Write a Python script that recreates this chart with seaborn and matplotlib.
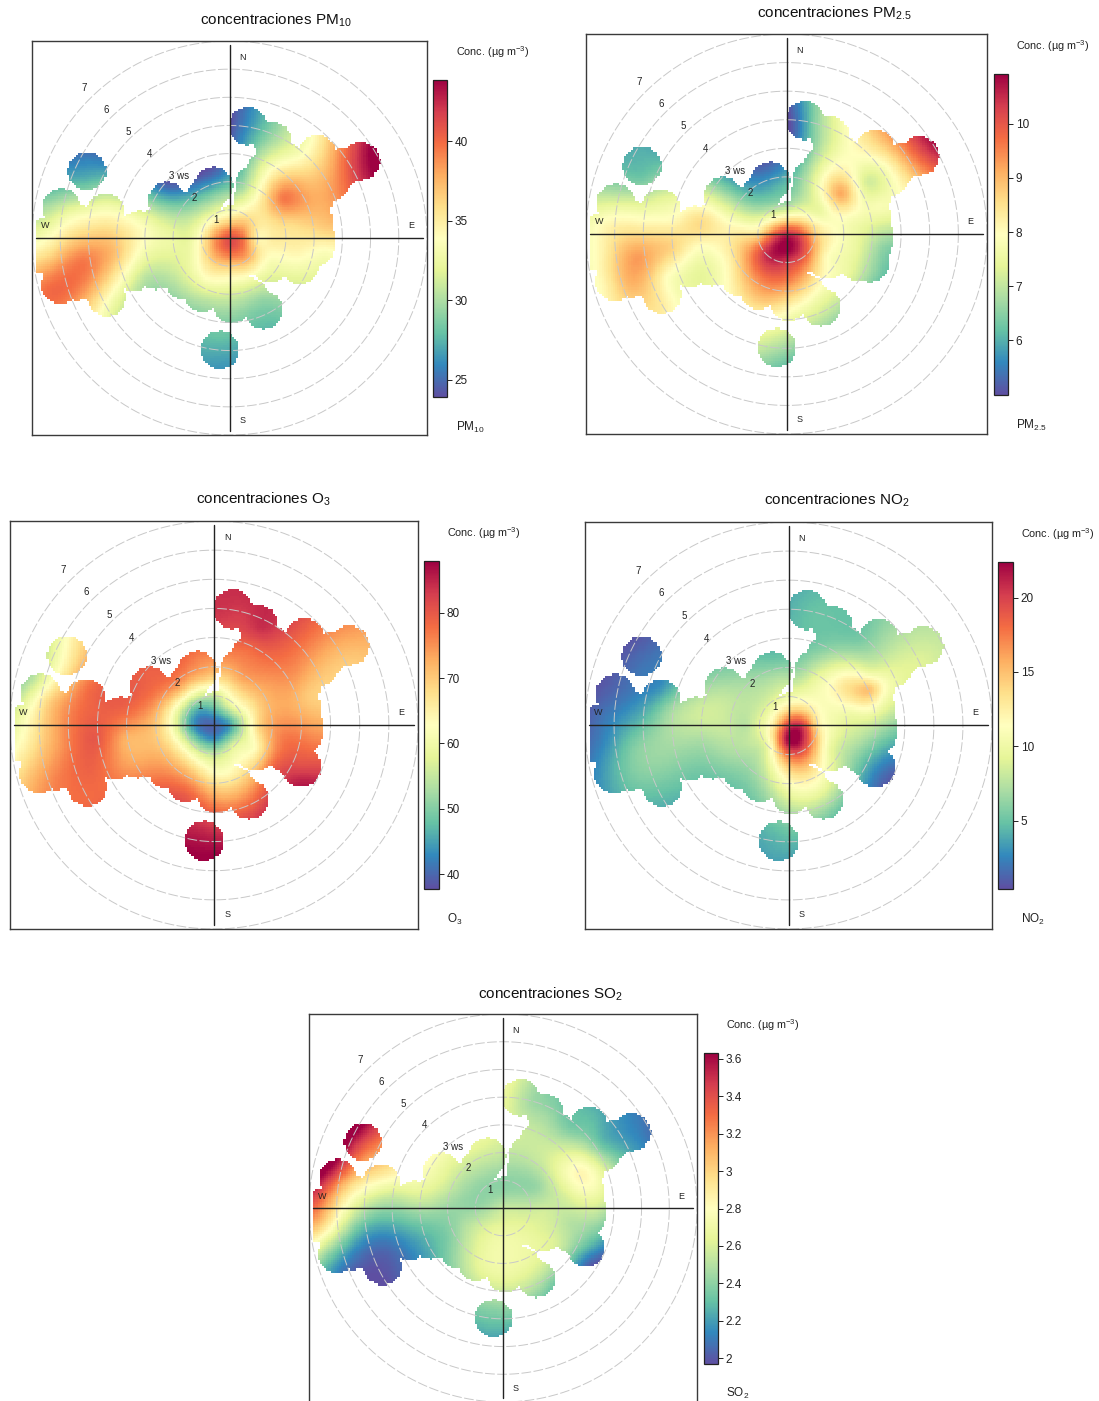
import numpy as np
import pandas as pd
import matplotlib.pyplot as plt
import seaborn as sns

sns.set_theme(style="white")
plt.rcParams['font.family'] = ['Liberation Sans', 'DejaVu Sans']
plt.rcParams['mathtext.default'] = 'regular'

# Points, wind speed units east / north of the centre
point_x = [0.4, 0.2, 1, 1.6, 1.2, 2.4, 3.2, 3.6, 4.3, 5, 4.6,
           0.4, 0.9, 1.9, 2.8, 2.8, 3.2, 1.2, 2.2, 3.4, 0.6,
           0, 0.5, -0.5, 0, 0, 1, -1, 0, 0, 0.7, -0.7, -0.7, -1.5, 1.5, -1.3,
           1.4, 2.4, 3.4, 2, 3, 3,
           0.2, -0.8, -0.8, 0.2, 1.2, 1.3, -0.34, -0.34,
           -0.5, -0.3, -1.2, -2.2, -2.2,
           -2, -1.9, -3, -3, -3, -4, -4, -4.2, -4.3, -4.4,
           -5, -5.2, -5.4, -6.4, -6.4, -6.3, -6, -5.7, -5.05, -5.05]
point_y = [4.4, 3.6, 3.8, 3.3, 2.6, 2.9, 3.1, 2.3, 2.6, 3, 2.2,
           1.8, 1.6, 1.4, 1.8, 1.25, 1, 0.8, 0.5, 0.3, 0.6,
           0, 0, 0, 0.5, -0.5, 0, 0, 1, -1, -0.7, -0.7, 0.7, 0, -0.1, -0.6,
           -0.8, -0.5, -0.5, -1.4, -1.4, -1.9,
           -1.6, -1.4, -2.2, -2.6, -2.1, -2.9, -3.5, -4.5,
           2.3, 1.6, 1.2, 1.8, 0.9,
           -0.1, -1, 0.4, -0.5, -1.4, 0.5, -0.5, -1.5, -2.5, 1.3,
           0.2, -0.8, -1.7, 0.4, -0.6, -1.8, 1.4, 0.9, 2.9, 1.9]

pm10 = [25, 25, 27.5, 30.5, 32, 33.5, 35.5, 38, 41, 44, 42,
        29.5, 33, 39.5, 37.5, 38, 37.5, 35.5, 36, 36.5, 36.5,
        41, 39.5, 38.5, 37, 40, 34.5, 34.5, 33, 36.5, 37.5, 36.5, 33, 32, 35, 33,
        33.5, 34.5, 33.5, 32, 32, 31,
        33, 34, 30.5, 29.5, 29.5, 28, 28, 26.5,
        25, 29, 29, 25, 30,
        32.5, 31.5, 33.5, 33, 30.5, 35, 37, 35.5, 33, 32,
        36, 39.5, 39.5, 32.5, 36, 40, 29.5, 32.5, 25.5, 28]
pm25 = [5.5, 5.1, 6.5, 7.3, 7.2, 8, 8.6, 8, 9.3, 10.5, 9.2,
        6.5, 7.3, 9.2, 7.2, 7.6, 7.8, 7.5, 7.8, 7.2, 8.1,
        10.5, 10, 9.7, 8.5, 11, 8.8, 8.5, 6.8, 10.3, 9.8, 10.5, 7.2, 8.4, 8.2, 9.3,
        8, 7.5, 6.5, 7.6, 6.6, 6.3,
        9.5, 9.8, 9, 8, 7.7, 7, 7.3, 6.4,
        5.4, 6.1, 6.3, 6.2, 7.5,
        8.3, 8.3, 8.6, 7.9, 7.4, 8, 8.7, 8, 8.3, 7.3,
        8.3, 9.3, 9.1, 8, 8.2, 8.2, 6.9, 7.6, 6, 6.3]
o3 = [84, 83, 83, 84, 78, 80, 78, 73, 72, 73, 70,
      71, 73, 74, 75, 73, 70, 67, 73, 72, 58,
      40, 44, 41, 47, 44, 55, 50, 55, 55, 58, 55, 51, 63, 68, 64,
      63, 77, 76, 78, 81, 85,
      62, 68, 77, 74, 73, 80, 84, 88,
      76, 70, 72, 79, 77,
      70, 72, 78, 72, 74, 79, 80, 79, 78, 77,
      76, 75, 76, 62, 65, 71, 58, 68, 63, 66]
no2 = [4.3, 4.5, 5, 5, 6, 5.5, 6.5, 8.5, 8.5, 8, 9,
       7, 9.5, 13, 10, 15, 11.5, 11, 10.5, 8, 13,
       20, 20, 13, 14, 22.5, 13, 9.5, 10, 18, 18, 10, 9, 7.5, 10.5, 8,
       10, 7.5, 5, 7, 3, 2,
       14, 8.5, 7, 9, 10, 6.5, 5, 3.8,
       5, 7.5, 7.5, 6, 8,
       8, 7, 8.5, 7, 5.5, 7, 7, 6, 4.5, 3,
       4.5, 6, 5.5, 1.8, 2.5, 3.5, 1.2, 2, 1, 2]
so2 = [2.62, 2.62, 2.45, 2.45, 2.55, 2.35, 2.3, 2.3, 2.18, 2.1, 2.2,
       2.5, 2.5, 2.65, 2.7, 2.85, 2.8, 2.42, 2.6, 2.65, 2.42,
       2.55, 2.55, 2.47, 2.42, 2.62, 2.55, 2.42, 2.4, 2.7, 2.65, 2.6, 2.4, 2.42, 2.58, 2.5,
       2.62, 2.5, 2.45, 2.58, 2.3, 2.1,
       2.72, 2.65, 2.65, 2.65, 2.62, 2.45, 2.42, 2.25,
       2.62, 2.5, 2.5, 2.72, 2.62,
       2.42, 2.38, 2.6, 2.35, 2.2, 2.58, 2.28, 2.05, 1.98, 2.95,
       2.6, 2.3, 2.12, 3.25, 2.95, 2.35, 3.5, 3.1, 3.6, 3.25]

# Where the surface exists: circles round the observed wind bins
bin_x = [-0.34, -5.05, -5.96, -4.4, 0.65, 1.51, 3.11, 4.65, -0.56, -2.21,
         -6.0, -5.4, -4.35, -3.4, -2.6, -1.6, -0.95, 0.1, 1.2, 1.45, 2.5,
         3.03, 3.05, 3.0, 3.0, 3.6, 4.0, 1.3, 0.9, 2.0, 2.0, 3.0, 2.0, 0.8,
         0.2, -0.5, 0.6, 1.2, 2.0, 2.2, 1.2, 0.3, 0.0, 0.6, -0.5, -1.0, 0.1, 0.7,
         -1.2, -1.05, -0.9, -1.8, -1.8, -2.6, -2.6, -3.2, -3.4, -4.2, -4.2, -4.3,
         -5.2, -5.2, -6.5, -6.5, -5.9, -5.9, -5.9, -5.5, -4.8]
bin_y = [-3.98, 2.38, 1.08, 0.9, 3.98, 3.44, 2.97, 2.73, 1.85, 1.31,
         -1.65, -1.55, -2.1, -1.2, -1.15, -1.5, -1.95, -2.35, -2.55, -0.9, -0.95,
         -0.35, 0.0, 0.6, 1.4, 2.0, 2.5, 2.4, 1.9, 2.7, 2.0, 2.2, 1.2, 1.35,
         0.5, 0.3, 0.4, 0.5, 0.4, -0.3, -0.4, -0.6, -1.25, -0.65, -0.6, -1.1, -1.8, -2.1,
         0.4, 0.85, 1.35, 0.4, -0.5, 0.4, -0.5, 0.3, -0.5, 0.1, -0.7, -1.4,
         0.45, -0.8, 0.05, -0.6, 0.5, -0.3, -1.0, -0.1, -0.2]
se_bin = {"pm10": (2.5, -0.95), "pm25": (2.9, -1.0), "o3": (3.0, -1.45), "no2": (3.0, -1.45), "so2": (3.0, -1.45)}

panel_keys = ["pm10", "pm25", "o3", "no2", "so2"]
panel_values = [pm10, pm25, o3, no2, so2]
titles = ["concentraciones PM$_{10}$", "concentraciones PM$_{2.5}$", "concentraciones O$_{3}$",
          "concentraciones NO$_{2}$", "concentraciones SO$_{2}$"]
species = ["PM$_{10}$", "PM$_{2.5}$", "O$_{3}$", "NO$_{2}$", "SO$_{2}$"]
scale_min = [23.9, 4.99, 37.75, 0.4, 1.97]
scale_max = [43.84, 10.92, 87.9, 22.4, 3.63]
scale_ticks = [[25, 30, 35, 40], [6, 7, 8, 9, 10], [40, 50, 60, 70, 80], [5, 10, 15, 20],
               [2, 2.2, 2.4, 2.6, 2.8, 3, 3.2, 3.4, 3.6]]
tick_text = [["25", "30", "35", "40"], ["6", "7", "8", "9", "10"], ["40", "50", "60", "70", "80"],
             ["5", "10", "15", "20"], ["2", "2.2", "2.4", "2.6", "2.8", "3", "3.2", "3.4", "3.6"]]

# Layout in pixels of the 1099x1401 picture: box left/right/top/bottom
box_px = [(32, 427, 41, 435), (586, 987, 34, 434), (10, 418, 521, 929), (585, 992, 522, 929), (309, 697, 1014, 1402)]
bar_px = [(433, 447, 80, 397), (994, 1008, 74, 395), (424, 439, 561, 889), (998, 1013, 562, 889), (704, 718, 1053, 1364)]
title_px = [(276, 20), (834, 13), (263, 499), (837, 500), (550, 994)]
conc_px = [(456, 52), (1016, 46), (447, 533), (1021, 534), (726, 1025)]
name_px = [(456, 427), (1016, 425), (447, 919), (1021, 919), (726, 1393)]

W, H = 1099, 1401
LIM = 7.0
CIRCLE = 0.68
cmap = sns.color_palette("Spectral_r", as_cmap=True)


def axes_px(fig, left, right, top, bottom, **kw):
    return fig.add_axes([left / W, 1 - bottom / H, (right - left) / W, (bottom - top) / H], **kw)


def smooth_surface(values, gx, gy):
    # thin plate spline through the points
    px, py = np.array(point_x), np.array(point_y)
    n = len(px)
    d = np.hypot(px[:, None] - px[None, :], py[:, None] - py[None, :])
    k = np.where(d > 0, d ** 2 * np.log(d + 1e-12), 0.0) + np.eye(n) * 0.01
    p = np.column_stack([np.ones(n), px, py])
    a = np.block([[k, p], [p.T, np.zeros((3, 3))]])
    w = np.linalg.solve(a, np.concatenate([values, np.zeros(3)]))
    d = np.hypot(gx[..., None] - px, gy[..., None] - py)
    kg = np.where(d > 0, d ** 2 * np.log(d + 1e-12), 0.0)
    return kg @ w[:n] + w[n] + w[n + 1] * gx + w[n + 2] * gy


fig = plt.figure(figsize=(W / 100, H / 100), dpi=100, facecolor="white")

edges = np.linspace(-LIM, LIM, 181)
cells = (edges[:-1] + edges[1:]) / 2
gx, gy = np.meshgrid(cells, cells[::-1])

for i, key in enumerate(panel_keys):
    left, right, top, bottom = box_px[i]
    ax = axes_px(fig, left, right, top, bottom)
    cax = axes_px(fig, *bar_px[i])

    z = smooth_surface(np.array(panel_values[i], dtype=float), gx, gy)
    z = np.clip(z, scale_min[i], scale_max[i])

    # Blank everything further than one circle from a bin
    bx = np.array(bin_x + [se_bin[key][0]])
    by = np.array(bin_y + [se_bin[key][1]])
    near = np.hypot(gx[..., None] - bx, gy[..., None] - by).min(axis=-1) <= CIRCLE
    mask = ~near | (gx < -6.88)

    frame = pd.DataFrame(z, index=cells[::-1], columns=cells)
    sns.heatmap(frame, ax=ax, mask=mask, cmap=cmap, vmin=scale_min[i], vmax=scale_max[i],
                xticklabels=False, yticklabels=False, cbar_ax=cax, cbar_kws={"ticks": scale_ticks[i]})
    ax.set_xlabel("")
    ax.set_ylabel("")

    cbar = ax.collections[0].colorbar
    cbar.outline.set_linewidth(0.9)
    cbar.outline.set_edgecolor("#222222")
    cbar.set_ticklabels(tick_text[i])
    cax.tick_params(axis="y", length=3.5, width=0.7, labelsize=8.5, pad=2, colors="#222222", right=True)

    # Rings, axes and labels on an overlay in wind speed units
    ov = axes_px(fig, left, right, top, bottom, facecolor="none")
    ov.set_xlim(-LIM, LIM)
    ov.set_ylim(-LIM, LIM)
    ov.set_xticks([])
    ov.set_yticks([])
    theta = np.linspace(0, 2 * np.pi, 361)
    for ws in range(1, 8):
        ov.plot(ws * np.cos(theta), ws * np.sin(theta), color="#c8c8c8", lw=0.7, ls=(0, (10, 2.5)))
    ov.plot([-6.85, 6.85], [0, 0], color="#222222", lw=1.0)
    ov.plot([0, 0], [-6.85, 6.85], color="#222222", lw=1.0)
    for ws in range(1, 8):
        x_lab, y_lab = 0.3 - 0.78 * ws, 0.78 * ws - 0.13
        if ws == 3:
            ov.text(x_lab - 0.12, y_lab, "3 ws", fontsize=7, ha="left", va="center", color="#222222")
        else:
            ov.text(x_lab, y_lab, str(ws), fontsize=7, ha="center", va="center", color="#222222")
    ov.text(0.45, 6.42, "N", fontsize=6.5, ha="center", va="center", color="#222222")
    ov.text(0.45, -6.5, "S", fontsize=6.5, ha="center", va="center", color="#222222")
    ov.text(-6.54, 0.43, "W", fontsize=6.5, ha="center", va="center", color="#222222")
    ov.text(6.43, 0.43, "E", fontsize=6.5, ha="center", va="center", color="#222222")
    for s in ov.spines.values():
        s.set_visible(True)
        s.set_color("#3a3a3a")
        s.set_linewidth(1.0)

    fig.text(title_px[i][0] / W, 1 - title_px[i][1] / H, titles[i], fontsize=11, ha="center", va="center", color="#111111")
    fig.text(conc_px[i][0] / W, 1 - conc_px[i][1] / H, "Conc. (µg m$^{-3}$)", fontsize=7.8, ha="left", va="center", color="#222222")
    fig.text(name_px[i][0] / W, 1 - name_px[i][1] / H, species[i], fontsize=8.5, ha="left", va="center", color="#222222")

fig.savefig("out.png", dpi=100, facecolor="white")
